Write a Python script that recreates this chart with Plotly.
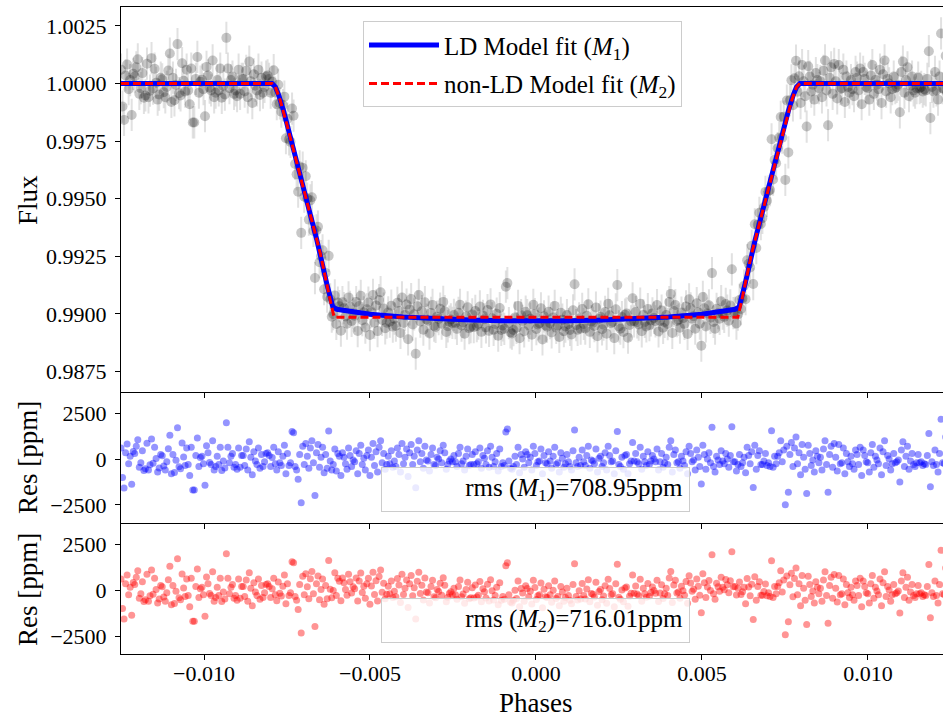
import numpy as np
import plotly.graph_objects as go

# Residuals of the limb-darkened fit (ppm), one per phase sample
RES_M1 = [
    600, -1000, -1580, 350, 820, -250, 150, -1365, 420, 300,
    700, 1050, -450, -200, 450, -620, -520, 860, -600, -310,
    1100, -220, 640, 30, -700, -480, 250, 180, -380, -600,
    -150, 560, 1300, -800, 250, -730, -60, 1710, -420, -520,
    880, 120, -350, 600, -300, -900, 650, -1690, -1690, 200,
    1150, -400, 80, 160, -250, -1420, 720, 350, -180, -300,
    1000, -600, -400, 150, -300, 650, -620, -100, -480, 1980,
    650, -200, 150, 300, -450, -300, -550, 600, -450, 200,
    200, -350, 550, -600, 950, 100, -850, 400, -100, -300,
    600, -500, 250, -400, -150, 300, 350, 200, -400, 80,
    650, -250, -600, 400, -200, -350, 150, 750, -800, 300,
    -350, -200, 1500, 1440, -400, -600, -1100, 250, -2380, 700,
    -300, 850, 150, -500, 600, 1000, -200, -1980, 350, 800,
    -450, 100, 650, -750, 250, -500, 1530, -100, -600, -300,
    550, -650, 300, 150, -900, 350, 100, -250, -550, 600,
    200, -400, -50, -150, 450, -800, 300, 750, -300, 50,
    -600, 200, 500, -900, 100, 850, -350, 400, -700, 650,
    1000, -200, 300, -550, -300, 150, -250, 450, -450, -100,
    -400, 600, 250, -700, 850, -250, 100, 550, -950, 350,
    800, -300, 150, -1560, 500, 1000, -150, 300, -500, 700,
    -50, -100, -650, 250, 600, -300, -350, 100, 0, 450,
    -200, 750, 350, -550, -300, -100, 0, -150, 200, -150,
    -400, 300, 650, -250, -100, -600, 150, 550, -350, -300,
    250, -300, 400, -250, -150, 600, -500, 200, 50, -300,
    450, -450, 700, 100, -400, -150, 300, -650, 550, -400,
    -200, -350, 1480, 1640, -100, -500, -550, -400, 150, -300,
    650, -750, 250, 0, -450, 400, 250, -200, 100, -600,
    700, 300, -350, -150, -100, 550, -800, 200, -200, -250,
    400, -100, -500, 150, 650, -300, -200, -700, 350, 50,
    -450, -250, 250, -150, -400, -600, 450, 1580, -200, -400,
    100, -350, 500, -150, -350, 200, 700, -500, -50, -100,
    -250, 550, -700, 50, 150, -400, -200, 350, -600, 700,
    200, -150, -100, -800, 450, 1500, -300, -400, 100, -550,
    200, 250, -800, -250, -100, 900, -100, 300, -150, -250,
    650, -550, 150, -150, -350, 400, -300, -100, 200, 0,
    -150, 550, -600, -150, 300, -450, -200, 100, -300, 650,
    1000, -700, 250, 500, -200, -150, -500, 150, -100, -350,
    400, -800, 700, 300, -150, -50, -600, 500, 100, -400,
    -1360, 750, 250, -550, 0, 350, -200, 1730, -400, -700,
    150, -50, -300, 450, -100, -250, 300, 0, -450, 200,
    1760, -150, -150, -650, -300, 250, -400, -200, 100, -750,
    650, 200, -250, 400, -1550, 750, -550, 200, 450, -300,
    -300, -100, 300, -350, -200, -400, 1550, -450, 150, -250,
    150, 350, 1000, -150, 500, -2490, 700, -1800, 250, 900,
    -400, 600, 1200, -250, 350, -850, 800, 100, -550, -1870,
    750, 300, -350, -50, -700, 450, 150, -200, 100, -600,
    550, 1000, -300, -1810, 250, 700, -450, 850, 100, -650,
    800, -250, -200, 600, -800, 300, -150, -400, 150, -250,
    -550, 500, 250, -300, 650, -900, 500, 200, -150, -200,
    -700, 350, 800, -450, 150, -50, -250, 600, -850, 400,
    1000, -350, 200, 0, -600, -250, 300, -200, -150, -50,
    -1250, 500, 950, -400, 150, 700, -550, -100, 300, -300,
    -400, -200, 250, -200, -150, -350, -250, -300, 200, 1400,
    -1500, -150, -350, 500, -300, -700, 300, 2170, -200, -250,
    1200, -400, 850, 100,
]
PHASE_START = -0.0125
PHASE_STEP = 4.6e-5
FLUX_ERR = 0.0007

# Transit models: limb-darkened (M1) and uniform-disc (M2)
M1_PHASE = [-0.0125, -0.00795, -0.00785, -0.00775, -0.0076, -0.0074, -0.0070, -0.0066,
            -0.0063, -0.00612, -0.0060, -0.0055, -0.0050, -0.0040, -0.0030, -0.0020,
            -0.0010, 0.0, 0.0010, 0.0020, 0.0030, 0.0040, 0.0050, 0.0055, 0.0060,
            0.00612, 0.0063, 0.0066, 0.0070, 0.0074, 0.0076, 0.00775, 0.00785,
            0.00795, 0.0125]
M1_FLUX = [1.0, 1.0, 0.99985, 0.9995, 0.9988, 0.9977, 0.9955, 0.9932,
           0.9913, 0.9903, 0.9902, 0.99008, 0.98998, 0.98986, 0.98978, 0.98973,
           0.9897, 0.98969, 0.9897, 0.98973, 0.98978, 0.98986, 0.98998, 0.99008, 0.9902,
           0.9903, 0.9913, 0.9932, 0.9955, 0.9977, 0.9988, 0.9995, 0.99985,
           1.0, 1.0]
M2_PHASE = [-0.0125, -0.00795, -0.00785, -0.0077, -0.0075, -0.0070, -0.0065, -0.0062,
            -0.00608, 0.00608, 0.0062, 0.0065, 0.0070, 0.0075, 0.0077, 0.00785,
            0.00795, 0.0125]
M2_FLUX = [1.0, 1.0, 0.99985, 0.99925, 0.9982, 0.99545, 0.99265, 0.9906,
           0.98985, 0.98985, 0.9906, 0.99265, 0.99545, 0.9982, 0.99925, 0.99985,
           1.0, 1.0]

RMS_M1 = "708.95"
RMS_M2 = "716.01"

X_TICKS = [-0.010, -0.005, 0.0, 0.005, 0.010]
FLUX_TICKS = [0.9875, 0.9900, 0.9925, 0.9950, 0.9975, 1.0000, 1.0025]
RES_TICKS = [-2500, 0, 2500]

res1 = np.array(RES_M1, dtype=float)
phase = PHASE_START + PHASE_STEP * np.arange(len(res1))
m1_at = np.interp(phase, M1_PHASE, M1_FLUX)
m2_at = np.interp(phase, M2_PHASE, M2_FLUX)
flux = m1_at + res1 * 1e-6
res2 = (flux - m2_at) * 1e6

FONT = "Liberation Serif"
fig = go.Figure()

fig.add_trace(go.Scatter(
    x=phase, y=flux, mode="markers", showlegend=False,
    marker=dict(size=10, color="rgba(0,0,0,0.22)", line=dict(width=0)),
    error_y=dict(type="constant", value=FLUX_ERR, color="rgba(200,200,200,0.55)",
                 thickness=2, width=0),
    xaxis="x", yaxis="y"))
fig.add_trace(go.Scatter(
    x=M1_PHASE, y=M1_FLUX, mode="lines", name="LD Model fit (<i>M</i><sub>1</sub>)",
    line=dict(color="#0000ff", width=5), legendgroup="a", xaxis="x", yaxis="y"))
fig.add_trace(go.Scatter(
    x=M2_PHASE, y=M2_FLUX, mode="lines", name="non-LD Model fit (<i>M</i><sub>2</sub>)",
    line=dict(color="#ff0000", width=3, dash="8px,4px"), legendgroup="b",
    xaxis="x", yaxis="y"))

fig.add_trace(go.Scatter(
    x=phase, y=res1, mode="markers", showlegend=False,
    marker=dict(size=7, color="rgba(0,0,255,0.42)", line=dict(width=0)),
    xaxis="x2", yaxis="y2"))
fig.add_trace(go.Scatter(
    x=phase, y=res2, mode="markers", showlegend=False,
    marker=dict(size=7, color="rgba(255,0,0,0.42)", line=dict(width=0)),
    xaxis="x3", yaxis="y3"))

XR = [-0.0125, 0.01226]
tickfont = dict(family=FONT, size=22, color="black")
xcommon = dict(range=XR, tickvals=X_TICKS, ticks="outside", ticklen=5, tickwidth=1,
               tickcolor="black", showline=True, linecolor="black", linewidth=1,
               mirror=True, showgrid=False, zeroline=False, tickfont=tickfont)
ycommon = dict(ticks="outside", ticklen=5, tickwidth=1, tickcolor="black",
               showline=True, linecolor="black", linewidth=1, showgrid=False,
               zeroline=False, tickfont=tickfont, ticklabelstandoff=4)

fig.update_layout(
    width=943, height=721,
    margin=dict(l=121, r=0, t=7, b=67),
    paper_bgcolor="white", plot_bgcolor="white",
    font=dict(family=FONT, size=22, color="black"),
    xaxis=dict(**xcommon, anchor="y", showticklabels=False),
    xaxis2=dict(**xcommon, anchor="y2", matches="x", showticklabels=False),
    xaxis3=dict(**xcommon, anchor="y3", matches="x", tickformat=".3f",
                ticklabelstandoff=-5),
    yaxis=dict(**ycommon, domain=[0.4057, 1.0], range=[0.98663, 1.00332],
               tickvals=FLUX_TICKS, tickformat=".4f"),
    yaxis2=dict(**ycommon, domain=[0.2025, 0.4034], range=[-3480, 3600],
                tickvals=RES_TICKS, tickformat="d"),
    yaxis3=dict(**ycommon, domain=[0.0, 0.2009], range=[-3480, 3600],
                tickvals=RES_TICKS, tickformat="d"),
    legend=dict(x=0.2944, y=0.978, xanchor="left", yanchor="top",
                bgcolor="rgba(255,255,255,0.8)", bordercolor="#cccccc", borderwidth=1,
                font=dict(family=FONT, size=25), tracegroupgap=3, itemwidth=70),
    showlegend=True,
)

annot_box = dict(showarrow=False, align="right", width=295, height=31, borderpad=6,
                 bgcolor="rgba(255,255,255,0.8)", bordercolor="#cccccc", borderwidth=1,
                 font=dict(family=FONT, size=25))
fig.add_annotation(x=0.0, y=-1660, xref="x2", yref="y2",
                   text=f"rms (<i>M</i><sub>1</sub>)={RMS_M1}ppm", **annot_box)
fig.add_annotation(x=0.0, y=-1660, xref="x3", yref="y3",
                   text=f"rms (<i>M</i><sub>2</sub>)={RMS_M2}ppm", **annot_box)

# Axis titles placed by pixel position, converted to paper fractions
PLOT_L, PLOT_T, PLOT_W, PLOT_H = 121, 7, 943 - 121, 721 - 7 - 67
title_font = dict(family=FONT, size=27, color="black")
for text, px, py, angle in [("Flux", 28, 200, -90), ("Res [ppm]", 28, 458, -90),
                            ("Res [ppm]", 28, 590, -90), ("Phases", 536, 703, 0)]:
    fig.add_annotation(text=text, x=(px - PLOT_L) / PLOT_W, y=1 - (py - PLOT_T) / PLOT_H,
                       xref="paper", yref="paper", xanchor="center", yanchor="middle",
                       showarrow=False, textangle=angle, font=title_font)

fig.write_html("out.html")
